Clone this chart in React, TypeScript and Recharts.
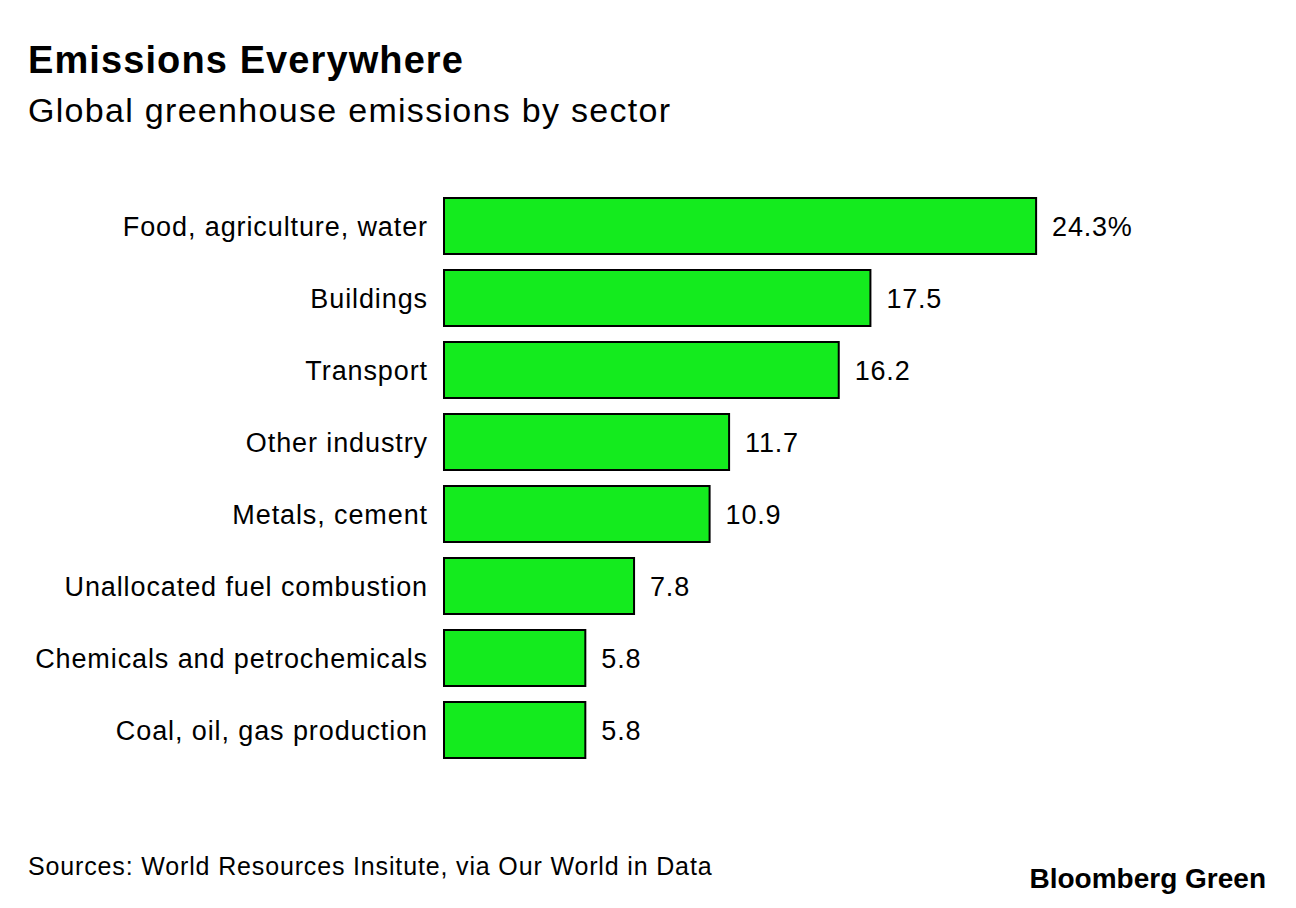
import { BarChart, Bar, XAxis, YAxis, LabelList } from "recharts";

const sectors = [
  "Food, agriculture, water",
  "Buildings",
  "Transport",
  "Other industry",
  "Metals, cement",
  "Unallocated fuel combustion",
  "Chemicals and petrochemicals",
  "Coal, oil, gas production",
];
const shares = [24.3, 17.5, 16.2, 11.7, 10.9, 7.8, 5.8, 5.8];
const shareLabels = ["24.3%", "17.5", "16.2", "11.7", "10.9", "7.8", "5.8", "5.8"];

const data = sectors.map((sector, i) => ({
  sector,
  share: shares[i],
  label: shareLabels[i],
}));

const font = "'Liberation Sans', Arial, sans-serif";

const App = () => {
  return (
    <div
      style={{
        position: "absolute",
        left: 0,
        top: 0,
        width: 1296,
        height: 908,
        background: "#fff",
        fontFamily: font,
        color: "#000",
        overflow: "hidden",
      }}
    >
      <div
        style={{
          position: "absolute",
          left: 28,
          top: 37,
          fontSize: 38,
          fontWeight: 700,
          letterSpacing: 1.1,
          lineHeight: "46px",
          whiteSpace: "nowrap",
        }}
      >
        Emissions Everywhere
      </div>
      <div
        style={{
          position: "absolute",
          left: 28,
          top: 89,
          fontSize: 34,
          letterSpacing: 1.3,
          lineHeight: "42px",
          whiteSpace: "nowrap",
        }}
      >
        Global greenhouse emissions by sector
      </div>

      <div style={{ position: "absolute", left: 0, top: 0 }}>
        <BarChart
          width={1296}
          height={908}
          data={data}
          layout="vertical"
          margin={{ top: 190, right: 121, left: 0, bottom: 142 }}
        >
          <XAxis type="number" domain={[0, 30]} hide />
          <YAxis
            type="category"
            dataKey="sector"
            width={444}
            axisLine={false}
            tickLine={false}
            tickSize={0}
            tickMargin={16}
            interval={0}
            tick={{ fill: "#000", fontSize: 27, fontFamily: font, letterSpacing: 0.9 }}
          />
          <Bar
            dataKey="share"
            fill="#14eb1e"
            stroke="#000"
            strokeWidth={2}
            barSize={56}
            isAnimationActive={false}
          >
            <LabelList
              dataKey="label"
              position="right"
              offset={16}
              style={{ fill: "#000", fontSize: 27, fontFamily: font, letterSpacing: 0.8 }}
            />
          </Bar>
        </BarChart>
      </div>

      <div
        style={{
          position: "absolute",
          left: 28,
          top: 850,
          fontSize: 25,
          letterSpacing: 0.85,
          lineHeight: "32px",
          whiteSpace: "nowrap",
        }}
      >
        Sources: World Resources Insitute, via Our World in Data
      </div>
      <div
        style={{
          position: "absolute",
          right: 30,
          top: 861,
          fontSize: 28,
          fontWeight: 700,
          lineHeight: "36px",
          whiteSpace: "nowrap",
        }}
      >
        Bloomberg Green
      </div>
    </div>
  );
};

export default App;
